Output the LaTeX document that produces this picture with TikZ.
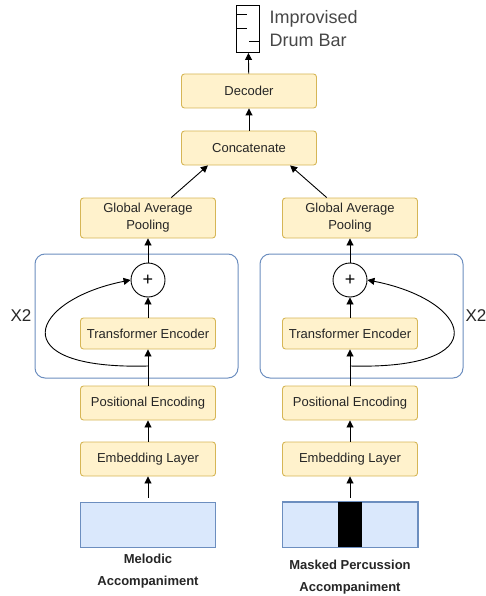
\documentclass[tikz,border=0pt]{standalone}
\usepackage{fontspec}
\setmainfont{Liberation Sans}
\usetikzlibrary{arrows.meta}
\definecolor{yelfill}{HTML}{FFF2CC}
\definecolor{yelline}{HTML}{D6B656}
\definecolor{blufill}{HTML}{DAE8FC}
\definecolor{bluline}{HTML}{6C8EBF}
\definecolor{txt}{HTML}{262626}

\begin{document}
\begin{tikzpicture}[x=1pt, y=-1pt,
		yel/.style={draw=yelline, line width=0.9pt, fill=yelfill, rounded corners=3pt, minimum width=135pt, minimum height=34pt, inner sep=0pt, text=txt, align=center, font=\fontsize{13}{17}\selectfont},
		grp/.style={draw=bluline, line width=1pt, rounded corners=10pt, minimum width=203pt, minimum height=124pt},
		inp/.style={draw=bluline, line width=0.9pt, fill=blufill, minimum width=135pt, minimum height=45pt, inner sep=0pt},
		lab/.style={text=txt, align=center, font=\bfseries\fontsize{13}{22}\selectfont},
		arr/.style={-{Triangle[length=7pt,width=7pt]}, line width=0.9pt}]
		\useasboundingbox (0,0) rectangle (486,596);
		% the two branches
		\foreach \s/\x in {l/148, r/350} {
			\node[grp] (grp\s) at (\x-11.5+23*\ifnum\x>200 1\else 0\fi, 316) {};
			\node[inp] (in\s) at (\x,524.5) {};
			\node[yel] (emb\s) at (\x,459) {Embedding Layer};
			\node[yel] (pos\s) at (\x,403) {Positional Encoding};
			\node[yel, minimum height=31pt] (tr\s) at (\x,333.5) {Transformer Encoder};
			\node[draw, line width=0.9pt, circle, minimum size=34pt, inner sep=0pt, font=\fontsize{18}{18}\selectfont] (add\s) at (\x,280) {+};
			\node[yel, minimum height=40pt] (gap\s) at (\x,218) {Global Average\\Pooling};
			\coordinate (skip\s) at (\x,366);
			\draw[arr, shorten <=4pt] (in\s) -- (emb\s);
			\draw[arr] (emb\s) -- (pos\s);
			\draw[arr] (pos\s) -- (tr\s);
			\draw[arr] (tr\s) -- (add\s);
			\draw[arr] (add\s) -- (gap\s);
		}
		\fill[black] (338,502) rectangle (362,547);
		\draw[bluline, line width=0.9pt] (inr.north west) rectangle (inr.south east);

		% residual connections
		\draw[arr] (skipl) .. controls (0,370) and (30,300) .. (addl.west);
		\draw[arr] (skipr) .. controls (500,370) and (470,300) .. (addr.east);
		\node[text=txt, font=\fontsize{17}{17}\selectfont] (repl) at (21,316) {X2};
		\node[text=txt, font=\fontsize{17}{17}\selectfont] (repr) at (476,316) {X2};

		% merge and decode
		\node[yel] (cat) at (249,148) {Concatenate};
		\node[yel] (dec) at (249,91) {Decoder};
		\draw[arr] (gapl) -- (cat.203);
		\draw[arr] (gapr) -- (cat.-23);
		\draw[arr] (cat) -- (dec);

		% drum bar
		\node[draw, line width=0.9pt, minimum width=23pt, minimum height=47pt, inner sep=0pt] (drum) at (248,29) {};
		\draw[line width=0.9pt] (237,14) -- (247,14) (237,28) -- (247,28) (249,41) -- (259,41);
		\draw[arr] (dec) -- (drum);
		\node[anchor=west, align=left, text=txt!85, font=\fontsize{18}{23}\selectfont] (out) at (266,29) {Improvised\\Drum Bar};

		% inputs
		\node[lab] (mel) at (148,571) {Melodic\\Accompaniment};
		\node[lab] (perc) at (350,577) {Masked Percussion\\Accompaniment};
	\end{tikzpicture}
\end{document}
